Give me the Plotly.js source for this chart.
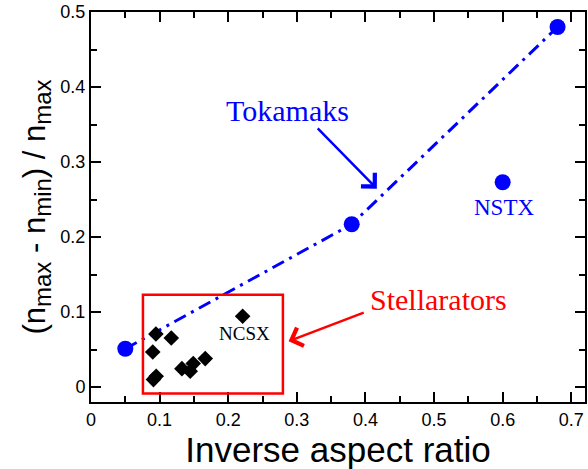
<!DOCTYPE html>
<html>
<head>
<meta charset="utf-8">
<script src="https://cdn.plot.ly/plotly-3.0.1.min.js"></script>
<style>html,body{margin:0;padding:0;background:#fff;}#chart{width:588px;height:469px;}</style>
</head>
<body>
<div id="chart"></div>
<script>
// Tokamaks (connected by dash-dot line)
const tokamakX = [0.05, 0.38, 0.68];
const tokamakY = [0.051, 0.217, 0.48];
// NSTX (isolated tokamak point)
const nstxX = [0.60];
const nstxY = [0.273];
// Stellarators (diamonds)
const stellX = [0.0946, 0.117, 0.090, 0.221, 0.1665, 0.149, 0.1446, 0.1325, 0.095, 0.091];
const stellY = [0.0707, 0.0653, 0.0467, 0.0943, 0.0379, 0.0312, 0.021, 0.0245, 0.0143, 0.0099];
const xTicks = [0, 0.1, 0.2, 0.3, 0.4, 0.5, 0.6, 0.7];
const yTicks = [0, 0.1, 0.2, 0.3, 0.4, 0.5];

const BLUE = '#0000ff', RED = '#ff0000';
const serif = 'Liberation Serif, Times New Roman, serif';
const sans = 'Liberation Sans, Arial, sans-serif';

const traces = [
  {x: tokamakX, y: tokamakY, mode: 'lines', type: 'scatter',
   line: {color: BLUE, width: 3, dash: '13px,6px,3px,6px'}, hoverinfo: 'skip'},
  {x: stellX, y: stellY, mode: 'markers', type: 'scatter',
   marker: {symbol: 'diamond', size: 12, color: '#000'}},
  {x: tokamakX.concat(nstxX), y: tokamakY.concat(nstxY), mode: 'markers', type: 'scatter',
   marker: {symbol: 'circle', size: 16, color: BLUE}}
];

const axisCommon = {
  showline: true, linecolor: '#000', linewidth: 2, mirror: 'ticks',
  ticks: 'inside', ticklen: 10, tickwidth: 2, tickcolor: '#000',
  showgrid: false, zeroline: false, automargin: false,
  tickfont: {family: sans, size: 18, color: '#000'},
  minor: {ticks: 'inside', ticklen: 6, tickwidth: 2, tickcolor: '#000', dtick: 0.05, showgrid: false}
};

const sub = s => '<sub><span style="font-size:24px">' + s + '</span></sub>';

const layout = {
  width: 588, height: 469,
  margin: {l: 91, r: 3, t: 12, b: 67},
  paper_bgcolor: '#fff', plot_bgcolor: '#fff',
  showlegend: false,
  xaxis: Object.assign({}, axisCommon, {
    range: [0, 0.72], tickvals: xTicks, ticktext: xTicks.map(String),
    title: {text: 'Inverse aspect ratio', font: {family: sans, size: 35, color: '#000'}, standoff: 0}
  }),
  yaxis: Object.assign({}, axisCommon, {
    range: [-0.02, 0.5], tickvals: yTicks, ticktext: yTicks.map(String),
    title: {text: '(n' + sub('max') + ' - n' + sub('min') + ') / n' + sub('max'),
            font: {family: sans, size: 31, color: '#000'}, standoff: 6}
  }),
  shapes: [
    {type: 'rect', xref: 'x', yref: 'y', x0: 0.0757, x1: 0.2797, y0: -0.0088, y1: 0.123,
     line: {color: RED, width: 2.5}, fillcolor: 'rgba(0,0,0,0)'}
  ],
  annotations: [
    {x: 0.287, y: 0.369, xref: 'x', yref: 'y', text: 'Tokamaks', showarrow: false,
     font: {family: serif, size: 30, color: BLUE}},
    {x: 0.4166, y: 0.2645, xref: 'x', yref: 'y', ax: 0.3283, ay: 0.3467, axref: 'x', ayref: 'y',
     text: '', showarrow: true, arrowhead: 4, arrowsize: 1.5, arrowwidth: 2.5, arrowcolor: BLUE, standoff: 0},
    {x: 0.507, y: 0.117, xref: 'x', yref: 'y', text: 'Stellarators', showarrow: false,
     font: {family: serif, size: 30, color: RED}},
    {x: 0.288, y: 0.061, xref: 'x', yref: 'y', ax: 0.3997, ay: 0.100, axref: 'x', ayref: 'y',
     text: '', showarrow: true, arrowhead: 4, arrowsize: 1.5, arrowwidth: 2.5, arrowcolor: RED, standoff: 0},
    {x: 0.224, y: 0.071, xref: 'x', yref: 'y', text: 'NCSX', showarrow: false,
     font: {family: serif, size: 19, color: '#000'}},
    {x: 0.602, y: 0.240, xref: 'x', yref: 'y', text: 'NSTX', showarrow: false,
     font: {family: serif, size: 23, color: BLUE}}
  ]
};

Plotly.newPlot('chart', traces, layout, {staticPlot: true, displayModeBar: false});
</script>
</body>
</html>
